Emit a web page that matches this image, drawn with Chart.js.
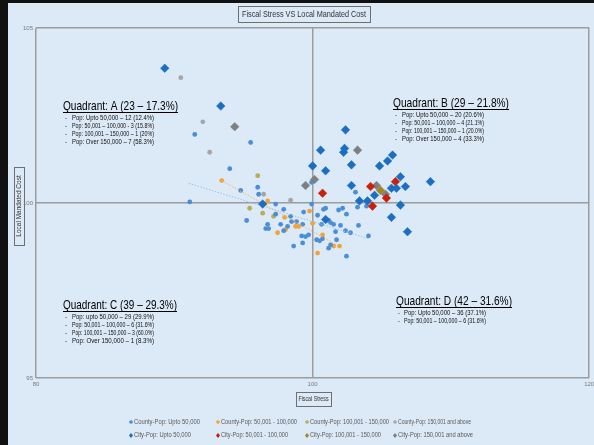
<!DOCTYPE html>
<html>
<head>
<meta charset="utf-8">
<script src="https://cdn.jsdelivr.net/npm/chart.js@4.4.0/dist/chart.umd.min.js"></script>
<style>
  html, body { margin: 0; padding: 0; background: #dce9f6; }
  #wrap { position: relative; width: 594px; height: 445px; overflow: hidden; }
  .edge { position: absolute; background: #111; }
</style>
</head>
<body>
<div id="wrap">
  <canvas id="myChart" width="594" height="445"></canvas>
  <div class="edge" style="left:0;top:0;width:8px;height:445px"></div>
  <div class="edge" style="left:0;top:0;width:594px;height:3px"></div>
</div>
<script>
const FONT = "'Liberation Sans Narrow', 'Liberation Sans', Arial, sans-serif";

const chartTitle = "Fiscal Stress VS Local Mandated Cost";
const xTitle = "Fiscal Stress";
const yTitle = "Local Mandated Cost";
const xTicks = [80, 100, 120];
const yTicks = [95, 100, 105];

const seriesNames = [
  "County-Pop: Upto 50,000", "County-Pop: 50,001 - 100,000", "County-Pop: 100,001 - 150,000", "County-Pop: 150,001 and above",
  "City-Pop: Upto 50,000", "City-Pop: 50,001 - 100,000", "City-Pop: 100,001 - 150,000", "City-Pop: 150,001 and above",
];
const seriesColors = ["#4a8ed6", "#f2a238", "#b9ab58", "#a6a6a6", "#1b6ec2", "#c8200c", "#a08624", "#7f7f7f"];

// [fiscal stress, local mandated cost]
const countySmall = [
  [91.48, 101.96], [95.52, 101.73], [94.01, 100.98], [94.8, 100.36], [96.03, 100.45], [96.1, 100.25],
  [91.12, 100.03], [97.33, 99.97], [99.93, 99.97], [99.93, 100.59], [97.91, 99.82], [99.35, 99.74],
  [95.23, 99.5], [96.75, 99.39], [96.61, 99.27], [96.82, 99.27], [97.69, 99.39], [97.33, 99.68],
  [98.41, 99.62], [98.48, 99.47], [98.84, 99.47], [99.28, 99.39], [98.19, 99.33], [97.91, 99.21],
  [99.21, 99.06], [99.49, 99.04], [99.28, 98.86], [99.71, 99.09], [100.36, 99.65], [100.94, 99.85],
  [101.88, 99.8], [102.17, 99.85], [102.45, 99.68], [103.25, 99.88], [101.16, 99.5], [101.3, 99.44],
  [101.52, 99.39], [100.65, 99.39], [101.66, 99.18], [102.38, 99.21], [102.74, 99.15], [103.32, 99.36],
  [104.04, 99.06], [100.29, 98.95], [100.51, 98.92], [100.72, 98.98], [101.73, 98.95], [102.45, 98.48],
  [101.3, 98.8], [98.63, 98.77], [103.1, 100.31], [103.9, 99.91], [102.02, 99.36], [100.79, 99.82],
  [101.16, 98.71],
];
const countyMid = [
  [93.43, 100.64], [96.75, 100.06], [97.98, 99.59], [98.77, 99.33], [98.99, 99.33], [97.47, 99.15],
  [98.05, 99.24], [99.78, 99.77], [100.0, 99.42], [100.72, 99.09], [101.52, 98.77], [101.95, 98.77],
  [100.36, 98.57],
];
const countyLarge = [[96.03, 100.78], [95.45, 99.85], [96.39, 99.71], [97.18, 99.62]];
const countyXL = [[90.47, 103.58], [92.06, 102.32], [92.56, 101.45], [96.46, 100.25], [98.41, 100.08]];

const citySmall = [
  [89.31, 103.85], [93.36, 102.77], [102.38, 102.09], [100.58, 101.51], [102.31, 101.56], [102.24, 101.45],
  [100.0, 101.06], [100.94, 100.92], [102.81, 101.09], [102.81, 100.5], [104.84, 101.06], [105.42, 101.2],
  [105.78, 101.37], [106.35, 100.75], [105.7, 100.42], [106.06, 100.42], [106.71, 100.47], [108.52, 100.61],
  [104.48, 100.22], [103.39, 100.06], [103.97, 100.06], [106.35, 99.94], [105.7, 99.59], [106.86, 99.18],
  [100.94, 99.53], [96.39, 99.97],
];
const cityMid = [[100.72, 100.28], [104.19, 100.47], [105.99, 100.61], [105.34, 100.14], [104.33, 99.91]];
const cityLarge = [[104.91, 100.36]];
const cityXL = [[94.37, 102.18], [99.49, 100.5], [100.14, 100.67], [103.25, 101.51], [104.62, 100.5], [105.27, 100.25]];

// linear trend lines (end points)
const trendSmall = [[91.05, 100.56], [104.04, 98.98]];
const trendMid = [[93.43, 100.64], [101.88, 98.77]];

const quadTitles = ["Quadrant: A (23 \u2013 17.3%)", "Quadrant: B (29 \u2013 21.8%)", "Quadrant: C (39 \u2013 29.3%)", "Quadrant: D (42 \u2013 31.6%)"];
const quadLines = [
  ["Pop: Upto 50,000 \u2013 12 (12.4%)", "Pop: 50,001 \u2013 100,000 - 3 (15.8%)", "Pop: 100,001 \u2013 150,000 \u2013 1 (20%)", "Pop: Over 150,000 \u2013 7 (58.3%)"],
  ["Pop: Upto 50,000 \u2013 20 (20.6%)", "Pop: 50,001 \u2013 100,000 \u2013 4 (21.1%)", "Pop: 100,001 \u2013 150,000 \u2013 1 (20.0%)", "Pop: Over 150,000 \u2013 4 (33.3%)"],
  ["Pop: upto 50,000 \u2013 29 (29.9%)", "Pop: 50,001 \u2013 100,000 \u2013 6 (31.6%)", "Pop: 100,001 \u2013 150,000 \u2013 3 (60.0%)", "Pop: Over 150,000 \u2013 1 (8.3%)"],
  ["Pop: Upto 50,000 \u2013 36 (37.1%)", "Pop: 50,001 \u2013 100,000 \u2013 6 (31.6%)"],
];

const toPts = (arr) => arr.map(([x, y]) => ({ x, y }));

/**
 * One scatter dataset
 */
function markers(i, data, diamond) {
  return {
    label: seriesNames[i],
    data: toPts(data),
    pointStyle: diamond ? "rectRot" : "circle",
    pointRadius: diamond ? 4.3 : 2.4,
    pointHoverRadius: diamond ? 4.3 : 2.4,
    backgroundColor: seriesColors[i],
    borderColor: seriesColors[i],
    borderWidth: diamond ? 0.5 : 0,
    order: diamond ? 1 : 3,
  };
}

function trend(data, color) {
  return {
    label: "trend",
    data: toPts(data),
    showLine: true,
    borderColor: color,
    borderWidth: 1,
    borderDash: [1.5, 1.5],
    pointRadius: 0,
    order: 2,
  };
}

function drawBox(c, x, y, w, h) {
  c.strokeStyle = "#6f6f6f";
  c.lineWidth = 1;
  c.strokeRect(x + 0.5, y + 0.5, w, h);
}

function drawText(c, str, x, y, font, color, align, maxW) {
  c.font = font;
  c.fillStyle = color;
  c.textAlign = align;
  c.textBaseline = "middle";
  if (maxW) c.fillText(str, x, y, maxW);
  else c.fillText(str, x, y);
}

// quadrant note placement: title left, baseline, title width, bullet x, text x
const quadPos = [
  { x: 63, y: 110, w: 115, bx: 65, tx: 72 },
  { x: 393, y: 107, w: 116, bx: 395, tx: 402 },
  { x: 63, y: 309, w: 114, bx: 65, tx: 72 },
  { x: 396, y: 305, w: 116, bx: 398, tx: 404 },
];

// legend widths so the columns do not run into each other
const legendW = [66, 76, 79, 73, 57, 67, 71, 75];

const decor = {
  id: "decor",
  afterDraw(chart) {
    const c = chart.ctx;
    c.save();

    // chart title
    drawBox(c, 238, 6, 132, 16);
    drawText(c, chartTitle, 304, 14.5, "9px " + FONT, "#333", "center", 124);

    // axis titles
    drawBox(c, 296, 392, 35, 14);
    drawText(c, xTitle, 313.5, 399.5, "6.5px " + FONT, "#333", "center", 30);
    drawBox(c, 14, 167, 10, 78);
    c.save();
    c.translate(19.5, 206);
    c.rotate(-Math.PI / 2);
    drawText(c, yTitle, 0, 0, "6.5px " + FONT, "#333", "center", 72);
    c.restore();

    // quadrant notes
    quadTitles.forEach((t, i) => {
      const p = quadPos[i];
      c.font = "13px " + FONT;
      c.fillStyle = "#000";
      c.textAlign = "left";
      c.textBaseline = "alphabetic";
      c.fillText(t, p.x, p.y, p.w);
      c.fillRect(p.x, p.y + 2, p.w, 1);
      quadLines[i].forEach((line, j) => {
        const ly = p.y + 8.5 + j * 7.8;
        drawText(c, "-", p.bx, ly, "6px " + FONT, "#222", "left");
        drawText(c, line, p.tx, ly, "6.3px " + FONT, "#111", "left", 82);
      });
    });

    // legend
    const colX = [131, 218, 307, 395];
    const rowY = [422, 435.5];
    seriesNames.forEach((name, i) => {
      const x = colX[i % 4];
      const y = rowY[Math.floor(i / 4)];
      c.fillStyle = seriesColors[i];
      c.beginPath();
      if (i < 4) {
        c.arc(x, y, 1.8, 0, Math.PI * 2);
      } else {
        c.moveTo(x, y - 2.5);
        c.lineTo(x + 2, y);
        c.lineTo(x, y + 2.5);
        c.lineTo(x - 2, y);
        c.closePath();
      }
      c.fill();
      drawText(c, name, x + 3, y, "6.5px " + FONT, "#595959", "left", legendW[i]);
    });

    c.restore();
  },
};

const ctx = document.getElementById("myChart").getContext("2d");
const chart = new Chart(ctx, {
  type: "scatter",
  data: {
    datasets: [
      markers(4, citySmall, true),
      markers(5, cityMid, true),
      markers(6, cityLarge, true),
      markers(7, cityXL, true),
      trend(trendSmall, "#9cc2e8"),
      trend(trendMid, "#f4b37a"),
      markers(0, countySmall, false),
      markers(1, countyMid, false),
      markers(2, countyLarge, false),
      markers(3, countyXL, false),
    ],
  },
  options: {
    responsive: false,
    animation: false,
    layout: { padding: { left: 10, top: 28, right: 4, bottom: 55 } },
    plugins: {
      legend: { display: false },
      tooltip: { enabled: false },
    },
    scales: {
      x: {
        type: "linear",
        min: xTicks[0],
        max: xTicks[xTicks.length - 1],
        afterBuildTicks: (s) => { s.ticks = xTicks.map((v) => ({ value: v })); },
        afterFit: (s) => { s.height = 12; s.paddingLeft = 0; s.paddingRight = 0; },
        ticks: { font: { size: 6, family: FONT }, color: "#7a7a7a", padding: 3 },
        grid: { color: "#9c9c9c", lineWidth: 1.5, drawTicks: false },
        border: { display: false },
      },
      y: {
        type: "linear",
        min: yTicks[0],
        max: yTicks[yTicks.length - 1],
        afterBuildTicks: (s) => { s.ticks = yTicks.map((v) => ({ value: v })); },
        afterFit: (s) => { s.width = 26; s.paddingTop = 0; s.paddingBottom = 0; },
        ticks: { font: { size: 6, family: FONT }, color: "#7a7a7a", padding: 3 },
        grid: { color: "#9c9c9c", lineWidth: 1.5, drawTicks: false },
        border: { display: false },
      },
    },
  },
  plugins: [decor],
});
</script>
</body>
</html>
